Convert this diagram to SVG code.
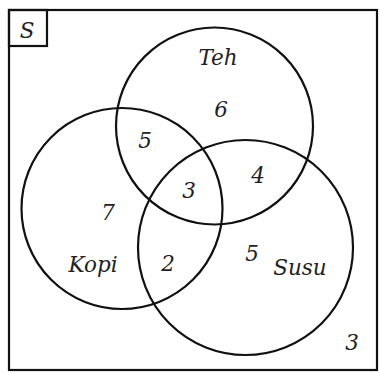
<svg xmlns="http://www.w3.org/2000/svg" width="380" height="373" viewBox="0 0 380 373">
<style>
.ln{fill:none;stroke:#111;stroke-width:2.2}
.t{font-family:"DejaVu Serif","Liberation Serif",serif;font-style:italic;font-size:21.5px;fill:#222;text-anchor:middle}
</style>
<rect width="380" height="373" fill="#fff"/>
<g id="universe">
<rect class="ln" x="9" y="10" width="368" height="360"/>
<rect class="ln" x="9" y="10" width="38" height="36"/>
<text class="t" x="27" y="38">S</text>
</g>
<g id="teh">
<circle class="ln" cx="214.5" cy="126" r="98.5"/>
<text class="t" x="218" y="65">Teh</text>
</g>
<g id="kopi">
<circle class="ln" cx="122" cy="208.5" r="100.5"/>
<text class="t" x="93" y="272">Kopi</text>
</g>
<g id="susu">
<circle class="ln" cx="245.5" cy="247.5" r="107.5"/>
<text class="t" x="300" y="275">Susu</text>
</g>
<g id="labels">
<text class="t" x="221" y="117">6</text>
<text class="t" x="145" y="148">5</text>
<text class="t" x="189" y="198">3</text>
<text class="t" x="258" y="183">4</text>
<text class="t" x="108" y="220">7</text>
<text class="t" x="168" y="271">2</text>
<text class="t" x="252" y="261">5</text>
<text class="t" x="352" y="350">3</text>
</g>
</svg>
